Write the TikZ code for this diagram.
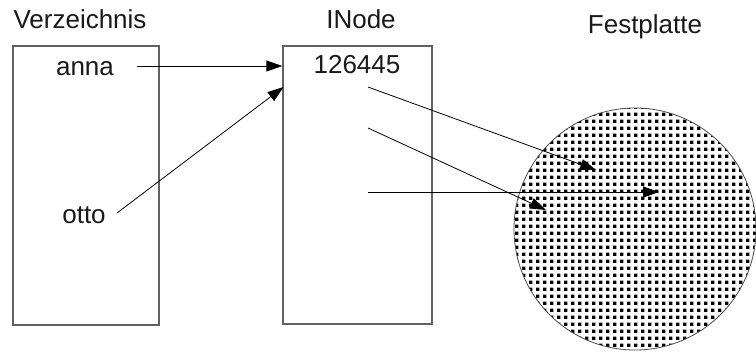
\documentclass[tikz,border=0pt]{standalone}
\usepackage{fontspec}
\setmainfont{Liberation Sans}
\usetikzlibrary{arrows.meta,patterns}
\pgfdeclarepatternformonly{platedots}{\pgfpointorigin}{\pgfqpoint{6.6pt}{6.6pt}}{\pgfqpoint{6.6pt}{6.6pt}}{%
  \pgfpathrectangle{\pgfpointorigin}{\pgfqpoint{3.6pt}{3.6pt}}\pgfusepath{fill}}
\tikzset{
  lbl/.style={font=\fontsize{26pt}{30pt}\selectfont, text=black!90, anchor=base, inner sep=0pt},
  boxframe/.style={draw=black!62, line width=1.3pt, inner sep=0pt},
  ptr/.style={draw=black, line width=0.8pt, -{Triangle[length=16pt,width=11pt]}},
}
\begin{document}
\begin{tikzpicture}[x=1pt,y=-1pt]
\useasboundingbox (0,0) rectangle (756,360);
% boxes
\node[boxframe, minimum width=146pt, minimum height=279pt] (vz) at (86,185.5) {};
\node[boxframe, minimum width=149pt, minimum height=278pt] (in) at (357.5,185) {};
% disk
\fill[white] (635,229) circle (121);
\fill[pattern=platedots, pattern color=black] (635,229) circle (121);
\draw[black!70, line width=0.8pt] (635,229) circle (121);
\coordinate (disk) at (635,229);
% titles
\node[lbl] (tvz) at (80,28) {Verzeichnis};
\node[lbl] (tin) at (361,28) {INode};
\node[lbl] (tfp) at (645,33) {Festplatte};
% entries
\node[lbl] (anna) at (85,75) {anna};
\node[lbl] (num) at (357,73) {126445};
\node[lbl] (otto) at (84,223) {otto};
% pointer ends
\coordinate (a1) at (137,66);
\coordinate (o1) at (117,213);
\coordinate (o2) at (283.5,87);
\coordinate (p1) at (368,87);
\coordinate (p2) at (368,128);
\coordinate (p3) at (368,192);
\coordinate (b1) at (596,170);
\coordinate (b2) at (546,210);
\coordinate (b3) at (659,192);
\draw[ptr] (a1) -- (in.west |- a1);
\draw[ptr] (o1) -- (o2);
\draw[ptr] (p1) -- (b1);
\draw[ptr] (p2) -- (b2);
\draw[ptr] (p3) -- (b3);
\end{tikzpicture}
\end{document}
